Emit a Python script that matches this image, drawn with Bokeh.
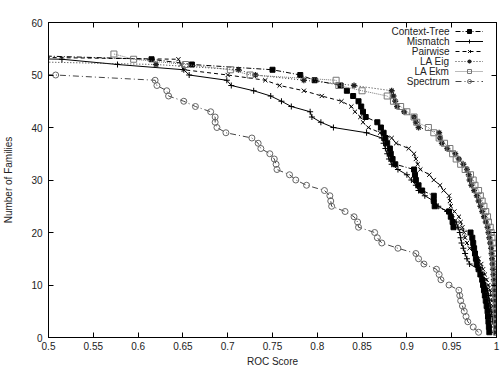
from bokeh.plotting import figure
from bokeh.models import Range1d, LinearAxis, FixedTicker, Legend, LegendItem, Label
from bokeh.embed import file_html
from bokeh.resources import INLINE

# Sorted ROC scores per method (one value per protein family, ascending).
# The number of families scoring at least x is plotted against x.
context_tree = [0.42, 0.615, 0.660, 0.750, 0.781, 0.797, 0.826, 0.833, 0.840, 0.846,
                0.849, 0.851, 0.854, 0.867, 0.871, 0.874, 0.876, 0.878, 0.881, 0.882,
                0.884, 0.887, 0.908, 0.909, 0.910, 0.913, 0.917, 0.930, 0.930, 0.931,
                0.947, 0.949, 0.951, 0.952, 0.971, 0.973, 0.974, 0.975, 0.976, 0.977,
                0.978, 0.980, 0.982, 0.984, 0.985, 0.986, 0.987, 0.988, 0.989, 0.990,
                0.9905, 0.991, 0.9915, 0.992]
mismatch = [0.20, 0.515, 0.577, 0.651, 0.657, 0.699, 0.704, 0.729, 0.748, 0.760,
            0.771, 0.792, 0.794, 0.804, 0.818, 0.855, 0.872, 0.874, 0.876, 0.878,
            0.880, 0.883, 0.890, 0.900, 0.905, 0.910, 0.913, 0.920, 0.930, 0.935,
            0.945, 0.950, 0.955, 0.957, 0.959, 0.960, 0.961, 0.963, 0.965, 0.967,
            0.970, 0.980, 0.984, 0.986, 0.988, 0.990, 0.991, 0.992, 0.993, 0.994,
            0.995, 0.996, 0.997, 0.998]
pairwise = [0.20, 0.645, 0.648, 0.651, 0.700, 0.742, 0.758, 0.785, 0.805, 0.827,
            0.838, 0.842, 0.848, 0.851, 0.857, 0.870, 0.883, 0.888, 0.902, 0.908,
            0.910, 0.912, 0.915, 0.925, 0.930, 0.937, 0.941, 0.947, 0.948, 0.949,
            0.953, 0.958, 0.960, 0.962, 0.964, 0.965, 0.967, 0.970, 0.975, 0.980,
            0.983, 0.985, 0.987, 0.989, 0.991, 0.993, 0.994, 0.995, 0.996, 0.997,
            0.998, 0.9985, 0.999, 0.9995]
la_eig = [0.25, 0.35, 0.620, 0.712, 0.731, 0.785, 0.841, 0.883, 0.885, 0.887,
          0.889, 0.897, 0.908, 0.910, 0.913, 0.936, 0.937, 0.939, 0.945, 0.954,
          0.958, 0.963, 0.967, 0.969, 0.970, 0.972, 0.975, 0.978, 0.980, 0.982,
          0.984, 0.986, 0.988, 0.990, 0.991, 0.992, 0.993, 0.994, 0.9945, 0.995,
          0.9955, 0.996, 0.9965, 0.997, 0.9975, 0.998, 0.9985, 0.999, 0.9992, 0.9994,
          0.9996, 0.9998, 0.9999, 1.0]
la_ekm = [0.573, 0.595, 0.653, 0.703, 0.725, 0.821, 0.824, 0.850, 0.878, 0.885,
          0.893, 0.900, 0.908, 0.911, 0.924, 0.930, 0.936, 0.942, 0.948, 0.951,
          0.955, 0.960, 0.965, 0.971, 0.974, 0.976, 0.980, 0.982, 0.984, 0.986,
          0.988, 0.990, 0.991, 0.993, 0.994, 0.995, 0.996, 0.9965, 0.997, 0.9975,
          0.998, 0.9983, 0.9986, 0.9988, 0.999, 0.9992, 0.9994, 0.9995, 0.9996, 0.9997,
          0.9998, 0.9999, 1.0, 1.0]
spectrum = [0.18, 0.24, 0.30, 0.36, 0.508, 0.619, 0.621, 0.632, 0.634, 0.651,
            0.664, 0.681, 0.686, 0.686, 0.688, 0.698, 0.727, 0.734, 0.737, 0.747,
            0.752, 0.754, 0.755, 0.769, 0.776, 0.788, 0.808, 0.814, 0.815, 0.816,
            0.831, 0.841, 0.845, 0.846, 0.864, 0.867, 0.872, 0.890, 0.910, 0.913,
            0.919, 0.933, 0.936, 0.938, 0.947, 0.958, 0.959, 0.960, 0.962, 0.964,
            0.966, 0.968, 0.974, 0.980]

x_ticks = [0.5, 0.55, 0.6, 0.65, 0.7, 0.75, 0.8, 0.85, 0.9, 0.95, 1.0]
x_tick_labels = ["0.5", "0.55", "0.6", "0.65", "0.7", "0.75", "0.8", "0.85", "0.9", "0.95", "1"]
y_ticks = [0, 10, 20, 30, 40, 50, 60]
y_tick_labels = ["0", "10", "20", "30", "40", "50", "60"]

FONT = "Liberation Sans"

p = figure(width=501, height=370, x_range=Range1d(0.5, 1.0), y_range=Range1d(0, 60),
           output_backend="svg", toolbar_location=None,
           min_border_left=48, min_border_right=5, min_border_top=22, min_border_bottom=33)
p.xgrid.visible = False
p.ygrid.visible = False
p.outline_line_color = "black"
p.outline_line_width = 1
p.background_fill_color = "white"
p.border_fill_color = "white"


def style_axis(ax, ticks, labels):
    ax.ticker = FixedTicker(ticks=ticks)
    ax.minor_tick_line_color = None
    ax.major_tick_in = 5
    ax.major_tick_out = 0
    ax.axis_line_color = "black"
    ax.major_tick_line_color = "black"
    if labels is None:
        # mirrored border: tick marks only
        ax.major_label_text_color = None
        ax.major_label_text_font_size = "1px"
        ax.major_label_standoff = 0
        return
    ax.major_label_overrides = {t: s for t, s in zip(ticks, labels)}
    ax.major_label_text_font = FONT
    ax.major_label_text_color = "#222222"
    ax.major_label_text_font_size = "10px"
    ax.axis_label_text_font = FONT
    ax.axis_label_text_font_style = "normal"
    ax.axis_label_text_font_size = "10px"
    ax.axis_label_text_color = "#222222"


style_axis(p.xaxis[0], x_ticks, x_tick_labels)
style_axis(p.yaxis[0], y_ticks, y_tick_labels)
p.xaxis[0].axis_label = "ROC Score"
p.xaxis[0].major_label_standoff = 4
p.xaxis[0].axis_label_standoff = 3
p.yaxis[0].axis_label = "Number of Families"
p.yaxis[0].major_label_standoff = 6
p.yaxis[0].axis_label_standoff = 14

top_axis = LinearAxis()
style_axis(top_axis, x_ticks, None)
p.add_layout(top_axis, "above")
right_axis = LinearAxis()
style_axis(right_axis, y_ticks, None)
p.add_layout(right_axis, "right")

series = [
    ("Context-Tree", context_tree, dict(line_color="black", line_dash="5 2 1 2"),
     dict(marker="square", size=5, fill_color="black", line_color="black")),
    ("Mismatch", mismatch, dict(line_color="black"),
     dict(marker="cross", size=6, fill_alpha=0, line_color="black")),
    ("Pairwise", pairwise, dict(line_color="black", line_dash="4 3"),
     dict(marker="x", size=6, fill_alpha=0, line_color="black")),
    ("LA Eig", la_eig, dict(line_color="#333333", line_dash="1 2"),
     dict(marker="asterisk", size=6, fill_alpha=0, line_color="#222222", line_width=1.3)),
    ("LA Ekm", la_ekm, dict(line_color="#777777", line_dash="1 1"),
     dict(marker="square", size=6, fill_alpha=0, line_color="#777777")),
    ("Spectrum", spectrum, dict(line_color="#444444", line_dash="6 3 1 3"),
     dict(marker="circle", size=6, fill_alpha=0, line_color="#666666")),
]

items = []
for name, scores, line_kw, mark_kw in series:
    n = len(scores)
    counts = list(range(n, 0, -1))
    lr = p.line(scores, counts, line_width=1, **line_kw)
    mr = p.scatter(scores, counts, **mark_kw)
    items.append(LegendItem(label=" ", renderers=[lr, mr]))

# legend samples only; the captions are drawn right-aligned to their left
legend = Legend(items=items, location=(407, 251), padding=0, margin=0, spacing=0,
                glyph_width=28, glyph_height=10, label_height=10, label_standoff=0,
                label_text_font_size="1px", label_text_color=None,
                border_line_color=None, background_fill_alpha=0)
p.add_layout(legend, "center")

for i, (name, *_rest) in enumerate(series):
    p.add_layout(Label(x=401, y=306 - 10 * i, x_units="screen", y_units="screen",
                       text=name, text_align="right", text_baseline="middle",
                       text_font=FONT, text_font_size="10px", text_color="#222222"))

open("out.html", "w").write(file_html(p, INLINE))
